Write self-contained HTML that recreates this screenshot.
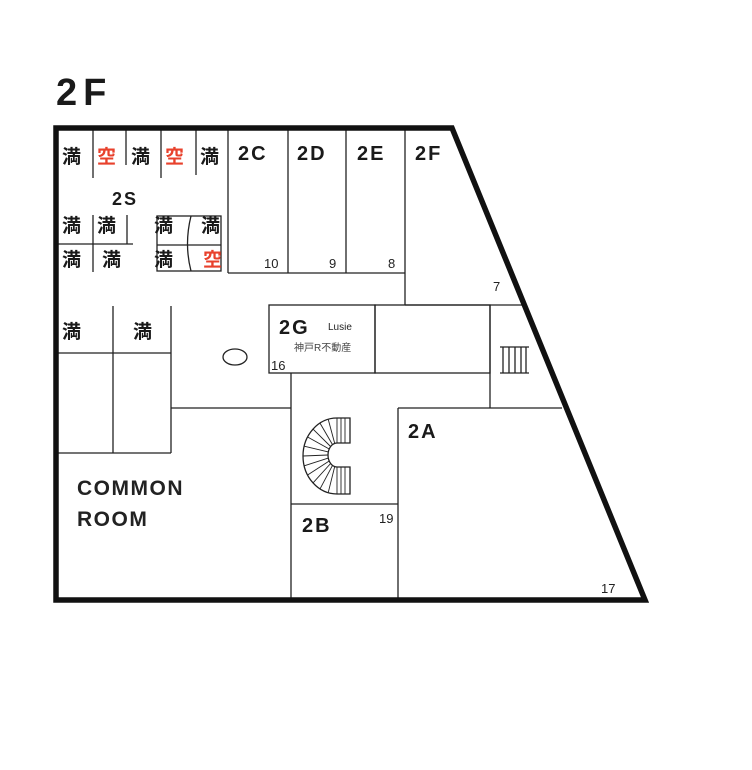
<!DOCTYPE html>
<html><head><meta charset="utf-8"><style>
html,body{margin:0;padding:0;background:#fff;}
svg{display:block;}
.l{font-family:"Liberation Sans","Noto Sans CJK JP",sans-serif;font-weight:bold;fill:#1a1a1a;}
.k{font-family:"Liberation Sans","Noto Sans CJK JP",sans-serif;font-weight:bold;font-size:19px;fill:#1a1a1a;}
.r{fill:#e8412c;}
.n{font-family:"Liberation Sans",sans-serif;font-size:13px;fill:#222;}
</style></head><body>
<svg width="752" height="770" viewBox="0 0 752 770" xmlns="http://www.w3.org/2000/svg">
<text x="56" y="105" class="l" font-size="38" letter-spacing="6">2F</text>
<g stroke="#222" stroke-width="1.3" fill="none">
<line x1="93" y1="128" x2="93" y2="178"/>
<line x1="126" y1="128" x2="126" y2="165"/>
<line x1="161" y1="128" x2="161" y2="178"/>
<line x1="196" y1="128" x2="196" y2="175"/>
<line x1="228" y1="128" x2="228" y2="273"/>
<line x1="288" y1="128" x2="288" y2="273"/>
<line x1="346" y1="128" x2="346" y2="273"/>
<line x1="405" y1="128" x2="405" y2="305"/>
<line x1="228" y1="273" x2="405" y2="273"/>
<line x1="405" y1="305" x2="523" y2="305"/>
<line x1="56" y1="244" x2="133" y2="244"/>
<line x1="93" y1="215" x2="93" y2="272"/>
<line x1="127" y1="215" x2="127" y2="244"/>
<rect x="157" y="216" width="64" height="55"/>
<line x1="157" y1="245" x2="221" y2="245"/>
<path d="M191 216 Q184 244 191 271"/>
<line x1="113" y1="306" x2="113" y2="453"/>
<line x1="171" y1="306" x2="171" y2="453"/>
<line x1="56" y1="353" x2="171" y2="353"/>
<line x1="56" y1="453" x2="171" y2="453"/>
<line x1="171" y1="408" x2="291" y2="408"/>
<ellipse cx="235" cy="357" rx="12" ry="8"/>
<rect x="269" y="305" width="106" height="68"/>
<rect x="375" y="305" width="115" height="68"/>
<line x1="490" y1="305" x2="490" y2="408"/>
<line x1="490" y1="408" x2="562" y2="408"/>
<line x1="291" y1="373" x2="291" y2="600"/>
<line x1="398" y1="408" x2="398" y2="600"/>
<line x1="398" y1="408" x2="490" y2="408"/>
<line x1="291" y1="504" x2="398" y2="504"/>
<line x1="500" y1="347" x2="529" y2="347"/>
<line x1="500" y1="373" x2="529" y2="373"/>
<line x1="503" y1="347" x2="503" y2="373"/>
<line x1="509" y1="347" x2="509" y2="373"/>
<line x1="515" y1="347" x2="515" y2="373"/>
<line x1="521" y1="347" x2="521" y2="373"/>
<line x1="526" y1="347" x2="526" y2="373"/>
<path d="M350,418 L337,418 A34,38 0 0 0 337,494 L350,494 L350,467 L337,467 A9,12 0 0 1 337,443 L350,443 Z"/>
<g stroke-width="0.9">
<line x1="341" y1="418" x2="341" y2="443"/>
<line x1="345" y1="418" x2="345" y2="443"/>
<line x1="341" y1="467" x2="341" y2="494"/>
<line x1="345" y1="467" x2="345" y2="494"/>
<line x1="337" y1="443" x2="337" y2="418"/>
<line x1="334.7" y1="443.4" x2="328.2" y2="419.3"/>
<line x1="332.5" y1="444.6" x2="320" y2="423.1"/>
<line x1="330.6" y1="446.5" x2="313" y2="429.1"/>
<line x1="329.2" y1="449" x2="307.6" y2="437"/>
<line x1="328.3" y1="451.9" x2="304.2" y2="446.2"/>
<line x1="328" y1="455" x2="303" y2="456"/>
<line x1="328.3" y1="458.1" x2="304.2" y2="465.8"/>
<line x1="329.2" y1="461" x2="307.6" y2="475"/>
<line x1="330.6" y1="463.5" x2="313" y2="482.9"/>
<line x1="332.5" y1="465.4" x2="320" y2="488.9"/>
<line x1="334.7" y1="466.6" x2="328.2" y2="492.7"/>
<line x1="337" y1="467" x2="337" y2="494"/>
</g>
</g>
<polygon points="56,128 452,128 645,600 56,600" fill="none" stroke="#111" stroke-width="5.5" stroke-linejoin="miter"/>
<g class="k">
<text x="62" y="163">満</text><text x="97" y="163" class="k r">空</text><text x="131" y="163">満</text><text x="165" y="163" class="k r">空</text><text x="200" y="163">満</text>
<text x="62" y="232">満</text><text x="97" y="232">満</text><text x="154" y="232">満</text><text x="201" y="232">満</text>
<text x="62" y="266">満</text><text x="102" y="266">満</text><text x="154" y="266">満</text><text x="203" y="266" class="k r">空</text>
<text x="62" y="338">満</text><text x="133" y="338">満</text>
</g>
<g class="l" font-size="20" letter-spacing="2">
<text x="112" y="205" font-size="18">2S</text>
<text x="238" y="160">2C</text><text x="297" y="160">2D</text><text x="357" y="160">2E</text><text x="415" y="160">2F</text>
<text x="279" y="334">2G</text>
<text x="408" y="438">2A</text>
<text x="302" y="532">2B</text>
</g>
<text x="77" y="495" font-family="Liberation Sans,sans-serif" font-size="21" font-weight="600" fill="#222" letter-spacing="1.5">COMMON</text>
<text x="77" y="526" font-family="Liberation Sans,sans-serif" font-size="21" font-weight="bold" fill="#222" letter-spacing="1.5">ROOM</text>
<text x="328" y="330" font-family="Liberation Sans,sans-serif" font-size="10" fill="#222">Lusie</text>
<text x="294" y="351" font-family="Liberation Sans,'Noto Sans CJK JP',sans-serif" font-size="10" fill="#444">神戸R不動産</text>
<g class="n">
<text x="264" y="268">10</text><text x="329" y="268">9</text><text x="388" y="268">8</text>
<text x="493" y="291">7</text><text x="271" y="370">16</text><text x="379" y="523">19</text><text x="601" y="593">17</text>
</g>
</svg>
</body></html>
